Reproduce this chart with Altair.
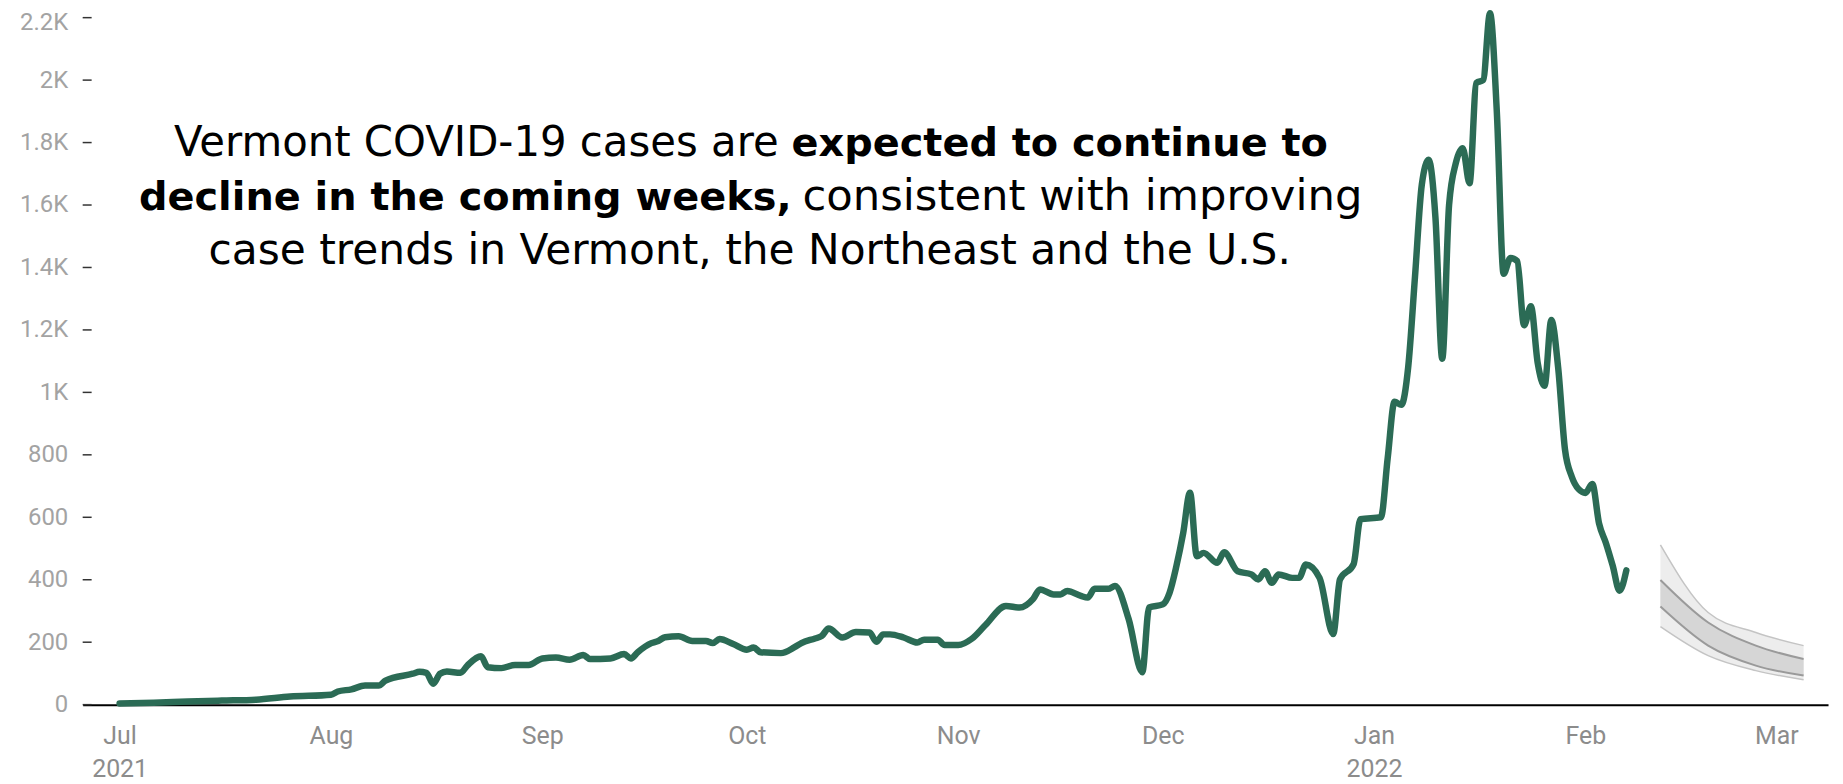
import altair as alt
import pandas as pd

# ---------------- data ----------------
case_dates = [
    "2021-07-01", "2021-07-06", "2021-07-11", "2021-07-16", "2021-07-21", "2021-07-26",
    "2021-08-01", "2021-08-02", "2021-08-04", "2021-08-06", "2021-08-08", "2021-08-09",
    "2021-08-13", "2021-08-14", "2021-08-15", "2021-08-16", "2021-08-17", "2021-08-18",
    "2021-08-20", "2021-08-21", "2021-08-23", "2021-08-24", "2021-08-26", "2021-08-28",
    "2021-08-30", "2021-09-01", "2021-09-03", "2021-09-05", "2021-09-07", "2021-09-08",
    "2021-09-11", "2021-09-13", "2021-09-14", "2021-09-15", "2021-09-17", "2021-09-18",
    "2021-09-19", "2021-09-21", "2021-09-23", "2021-09-25", "2021-09-26", "2021-09-27",
    "2021-09-29", "2021-10-01", "2021-10-02", "2021-10-03", "2021-10-06", "2021-10-08",
    "2021-10-09", "2021-10-11", "2021-10-12", "2021-10-13", "2021-10-15", "2021-10-17",
    "2021-10-19", "2021-10-20", "2021-10-21", "2021-10-22", "2021-10-24", "2021-10-26",
    "2021-10-27", "2021-10-29", "2021-10-30", "2021-11-01", "2021-11-03", "2021-11-05",
    "2021-11-08", "2021-11-10", "2021-11-12", "2021-11-13", "2021-11-15", "2021-11-16",
    "2021-11-17", "2021-11-19", "2021-11-20", "2021-11-21", "2021-11-23", "2021-11-24",
    "2021-11-26", "2021-11-28", "2021-11-29", "2021-12-01", "2021-12-02", "2021-12-03",
    "2021-12-04", "2021-12-05", "2021-12-06", "2021-12-07", "2021-12-09", "2021-12-10",
    "2021-12-12", "2021-12-14", "2021-12-15", "2021-12-16", "2021-12-17", "2021-12-18",
    "2021-12-20", "2021-12-21", "2021-12-22", "2021-12-24", "2021-12-26", "2021-12-27",
    "2021-12-29", "2021-12-30", "2022-01-02", "2022-01-03", "2022-01-04", "2022-01-05",
    "2022-01-06", "2022-01-07", "2022-01-08", "2022-01-09", "2022-01-10", "2022-01-11",
    "2022-01-12", "2022-01-13", "2022-01-14", "2022-01-15", "2022-01-16", "2022-01-17",
    "2022-01-18", "2022-01-19", "2022-01-20", "2022-01-21", "2022-01-22", "2022-01-23",
    "2022-01-24", "2022-01-25", "2022-01-26", "2022-01-27", "2022-01-28", "2022-01-29",
    "2022-01-30", "2022-01-31", "2022-02-01", "2022-02-02", "2022-02-03", "2022-02-04",
    "2022-02-05", "2022-02-06", "2022-02-07",
]
case_values = [
    4, 6, 10, 13, 16, 26,
    32, 42, 49, 61, 61, 77,
    99, 105, 102, 67, 99, 106,
    102, 125, 155, 120, 117, 127,
    127, 148, 151, 144, 159, 146,
    148, 162, 148, 168, 197, 204,
    216, 219, 204, 204, 197, 210,
    194, 176, 183, 168, 165, 184,
    197, 212, 220, 244, 215, 233,
    231, 201, 225, 225, 215, 199,
    208, 208, 191, 191, 211, 255,
    316, 311, 339, 369, 353, 353,
    364, 348, 343, 371, 371, 380,
    274, 104, 311, 321, 358, 443,
    549, 679, 475, 486, 454, 488,
    427, 417, 401, 427, 390, 417,
    406, 406, 449, 406, 226, 401,
    450, 594, 600, 790, 970, 960,
    1080, 1370, 1665, 1745, 1560, 1108,
    1600, 1735, 1782, 1670, 1991, 2000,
    2214, 1900, 1380, 1430, 1420, 1215,
    1276, 1094, 1021, 1232, 1079, 817,
    730, 690, 678, 707, 580, 518,
    445, 365, 430,
]

fc_dates = ["2022-02-12", "2022-02-19", "2022-02-26", "2022-03-05"]
fc_outer_hi = [512, 295, 231, 189]
fc_inner_hi = [399, 263, 189, 146]
fc_inner_lo = [314, 189, 125, 93]
fc_outer_lo = [250, 157, 109, 80]

month_ticks = [
    "2021-07-01", "2021-08-01", "2021-09-01", "2021-10-01", "2021-11-01",
    "2021-12-01", "2022-01-01", "2022-02-01", "2022-03-01",
]
y_ticks = [0, 200, 400, 600, 800, 1000, 1200, 1400, 1600, 1800, 2000, 2200]

line1_regular = "Vermont COVID-19 cases are"
line1_bold = "expected to continue to"
line2_bold = "decline in the coming weeks,"
line2_regular = "consistent with improving"
line3_regular = "case trends in Vermont, the Northeast and the U.S."

# ---------------- tables ----------------
cases = pd.DataFrame({"date": pd.to_datetime(case_dates), "value": case_values})
fc = pd.DataFrame({
    "date": pd.to_datetime(fc_dates),
    "outer_hi": fc_outer_hi, "inner_hi": fc_inner_hi,
    "inner_lo": fc_inner_lo, "outer_lo": fc_outer_lo,
})
ticks_df = pd.DataFrame({"v": y_ticks})


def dt(s, hours=0):
    y, m, d = (int(p) for p in s.split("-"))
    return alt.DateTime(year=y, month=m, date=d, hours=hours)


x_scale = alt.Scale(domain=[dt("2021-06-25", 14), dt("2022-03-08", 14)])
y_scale = alt.Scale(domain=[0, 2200], nice=False, zero=True)

x_axis = alt.Axis(
    values=[dt(s) for s in month_ticks],
    labelExpr="[timeFormat(datum.value, '%b'), (month(datum.value) == 0 || (month(datum.value) == 6 && year(datum.value) == 2021)) ? timeFormat(datum.value, '%Y') : '']",
    domain=True, domainColor="#000000", domainWidth=2,
    ticks=False, grid=False, title=None,
    labelColor="#8c8c8c", labelFont="Roboto", labelFontSize=25,
    labelPadding=19, labelLineHeight=33, labelFlush=False, labelOverlap=False,
)
y_axis = alt.Axis(
    values=y_ticks,
    labelExpr="datum.value >= 1000 ? format(datum.value / 1000, '.1~f') + 'K' : format(datum.value, 'd')",
    domain=False, grid=False, title=None, ticks=False,
    labelColor="#a3a3a3", labelFont="Roboto", labelFontSize=24, labelPadding=15,
    labelOffset={"condition": {"test": "datum.value == 2200", "value": 5}, "value": 0},
)

X = alt.X("date:T", scale=x_scale, axis=x_axis)

outer_band = alt.Chart(fc).mark_area(color="#ededed", interpolate="monotone").encode(
    x=X, y=alt.Y("outer_lo:Q", scale=y_scale, axis=y_axis), y2="outer_hi:Q"
)
inner_band = alt.Chart(fc).mark_area(color="#d6d6d6", interpolate="monotone").encode(
    x=X, y=alt.Y("inner_lo:Q", scale=y_scale, axis=y_axis), y2="inner_hi:Q"
)
outer_edges = alt.Chart(fc).transform_fold(
    ["outer_hi", "outer_lo"], as_=["edge", "v"]
).mark_line(color="#c4c4c4", strokeWidth=1.5, interpolate="monotone").encode(
    x=X, y=alt.Y("v:Q", scale=y_scale, axis=y_axis), detail="edge:N"
)
inner_edges = alt.Chart(fc).transform_fold(
    ["inner_hi", "inner_lo"], as_=["edge", "v"]
).mark_line(color="#9a9a9a", strokeWidth=2, interpolate="monotone").encode(
    x=X, y=alt.Y("v:Q", scale=y_scale, axis=y_axis), detail="edge:N"
)
tick_marks = alt.Chart(ticks_df).mark_rule(color="#333333", strokeWidth=1.5).encode(
    y=alt.Y("v:Q", scale=y_scale, axis=y_axis), x=alt.value(0), x2=alt.value(9)
)
main_line = alt.Chart(cases).mark_line(
    color="#2b6b55", strokeWidth=6.5, interpolate="monotone",
    strokeJoin="round", strokeCap="round",
).encode(x=X, y=alt.Y("value:Q", scale=y_scale, axis=y_axis))


def label(text, px, py, align, bold, size):
    return alt.Chart(pd.DataFrame({"t": [text]})).mark_text(
        align=align, baseline="alphabetic", font="DejaVu Sans",
        fontSize=size, fontWeight="bold" if bold else "normal", color="#000000",
    ).encode(text="t:N", x=alt.value(px), y=alt.value(py))


texts = [
    label(line1_regular, 699, 139, "right", False, 42),
    label(line1_bold, 712, 139, "left", True, 40),
    label(line2_bold, 712, 193, "right", True, 40),
    label(line2_regular, 723, 193, "left", False, 43.5),
    label(line3_regular, 670, 247, "center", False, 42.5),
]

chart = alt.layer(
    outer_band, inner_band, outer_edges, inner_edges, tick_marks, main_line, *texts
).properties(
    width=1753, height=690,
    padding={"left": 75, "top": 8, "right": 7, "bottom": 78},
    autosize=alt.AutoSizeParams(type="none"),
    background="white",
).configure_view(stroke=None)

chart.save("out.html", embed_options={"renderer": "svg", "actions": False})
